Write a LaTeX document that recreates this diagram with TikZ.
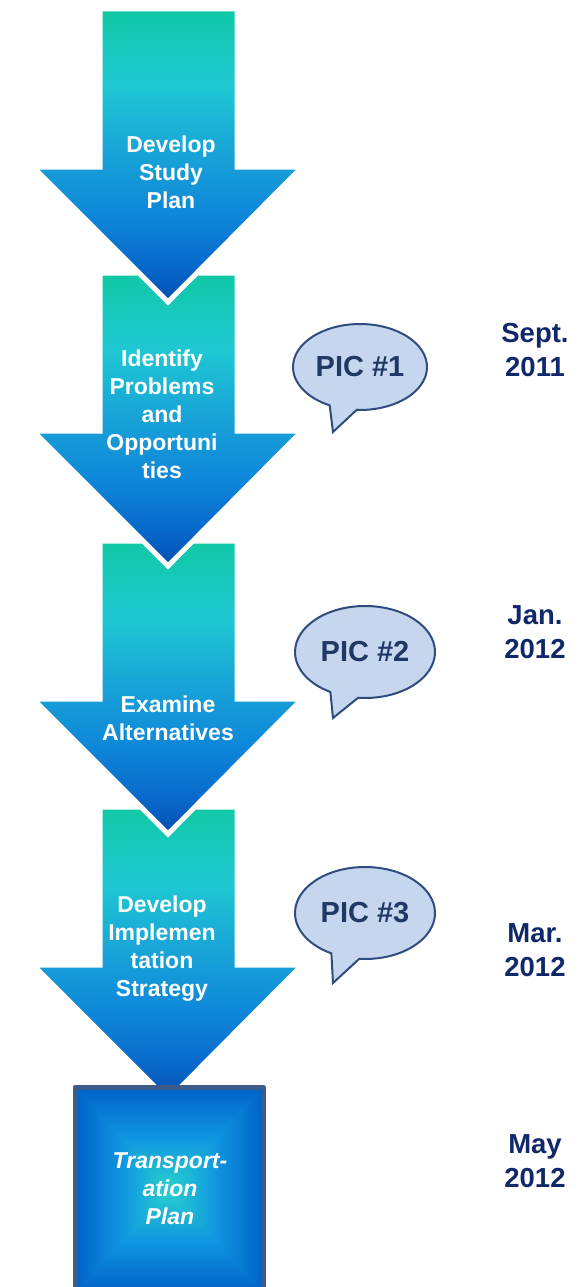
\documentclass[tikz,border=0pt]{standalone}
\usepackage{fontspec}
\setmainfont{Liberation Sans}
\usetikzlibrary{shapes.callouts}
\definecolor{arA}{RGB}{16,200,165}
\definecolor{arB}{RGB}{30,200,210}
\definecolor{arC}{RGB}{25,165,215}
\definecolor{arD}{RGB}{14,135,217}
\definecolor{arE}{RGB}{8,104,202}
\definecolor{arF}{RGB}{5,78,178}
\definecolor{boxedge}{RGB}{0,98,200}
\definecolor{boxmidc}{RGB}{16,150,224}
\definecolor{boxcore}{RGB}{40,208,205}
\definecolor{boxline}{RGB}{60,90,138}
\definecolor{bubfill}{RGB}{198,214,238}
\definecolor{bubline}{RGB}{46,76,126}
\definecolor{bubtext}{RGB}{31,56,100}
\definecolor{datecol}{RGB}{16,40,105}
\pgfdeclareverticalshading{arrowgrad}{100bp}{color(0bp)=(arF); color(25bp)=(arF); color(31bp)=(arE); color(40bp)=(arD); color(51bp)=(arC); color(62bp)=(arB); color(75bp)=(arA); color(100bp)=(arA)}
\newcommand{\flowarrow}[1]{%
  \path[shading=arrowgrad, draw=white, line width=5pt, line join=miter]
    (100,#1) -- (237,#1) -- (237,{#1+158}) -- (302,{#1+158}) -- (168,{#1+293})
    -- (33,{#1+158}) -- (100,{#1+158}) -- cycle;}
\tikzset{
  steptext/.style={text=white, align=center, inner sep=0pt,
    font=\fontsize{23}{28}\selectfont\bfseries},
  bubble/.style={ellipse callout, draw=bubline, fill=bubfill, line width=2pt,
    text=bubtext, inner sep=0pt, callout pointer arc=24,
    font=\fontsize{29}{34}\selectfont\bfseries},
  datetext/.style={text=datecol, align=center, inner sep=0pt,
    font=\fontsize{27.5}{34}\selectfont\bfseries}
}
\begin{document}
\begin{tikzpicture}[x=1pt, y=-1pt]
\useasboundingbox (0,0) rectangle (585,1287);
% arrows, bottom one first so each tip overlaps the next shaft
\flowarrow{807}
\flowarrow{541}
\flowarrow{273}
\flowarrow{9}
% final box
\fill[boxmidc] (75,1087) rectangle (263,1292);
\shade[top color=boxedge, bottom color=boxcore, middle color=boxmidc] (75,1087) -- (263,1087) -- (169,1189.5) -- cycle;
\shade[bottom color=boxedge, top color=boxcore, middle color=boxmidc] (75,1292) -- (263,1292) -- (169,1189.5) -- cycle;
\shade[left color=boxedge, right color=boxcore, middle color=boxmidc] (75,1087) -- (75,1292) -- (169,1189.5) -- cycle;
\shade[right color=boxedge, left color=boxcore, middle color=boxmidc] (263,1087) -- (263,1292) -- (169,1189.5) -- cycle;
\draw[boxline, line width=5pt, line join=round] (75,1295) -- (75,1087) -- (263,1087) -- (263,1295);
% step texts
\node[steptext] (s1) at (171,172) {Develop\\Study\\Plan};
\node[steptext] (s2) at (162,414) {Identify\\Problems\\and\\Opportuni\\ties};
\node[steptext] (s3) at (168,718) {Examine\\Alternatives};
\node[steptext] (s4) at (162,949) {Develop\\Implemen\\tation\\Strategy};
\node[steptext, font=\fontsize{23}{28}\selectfont\bfseries\itshape] (s5) at (170,1189) {Transport-\\ation\\Plan};
% bubbles
\node[bubble, minimum width=134pt, minimum height=86pt, callout absolute pointer={(333,432)}] (pic1) at (360,367) {PIC \#1};
\node[bubble, minimum width=140pt, minimum height=92pt, callout absolute pointer={(333,718)}] (pic2) at (365,652) {PIC \#2};
\node[bubble, minimum width=140pt, minimum height=92pt, callout absolute pointer={(333,983)}] (pic3) at (365,913) {PIC \#3};
% dates
\node[datetext] (d1) at (535,350) {Sept.\\2011};
\node[datetext] (d2) at (535,632) {Jan.\\2012};
\node[datetext] (d3) at (535,950) {Mar.\\2012};
\node[datetext] (d4) at (535,1161) {May\\2012};
\end{tikzpicture}
\end{document}
